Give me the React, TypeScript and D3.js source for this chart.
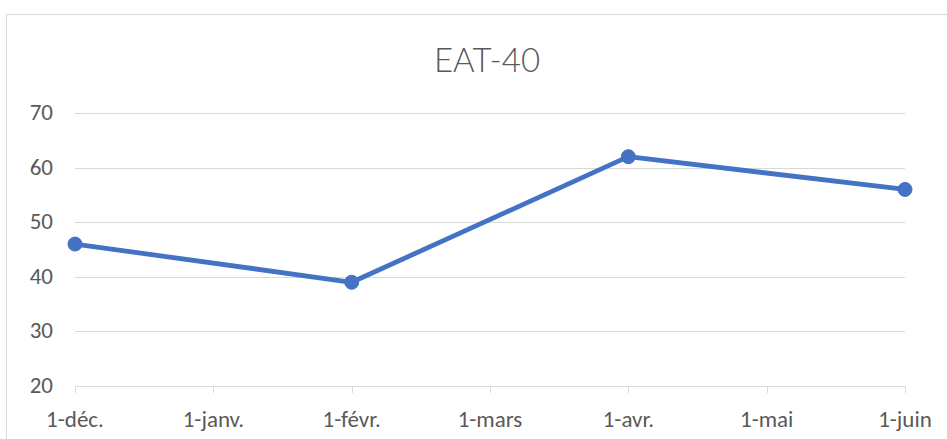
import React from "react";
import * as d3 from "d3";

const months = ["1-déc.", "1-janv.", "1-févr.", "1-mars", "1-avr.", "1-mai", "1-juin"];
const pointMonths = [0, 2, 4, 6];
const values = [46, 39, 62, 56];
const yTicks = [20, 30, 40, 50, 60, 70];
const title = "EAT-40";

const W = 947;
const H = 439;
const FONT = "Carlito, 'Liberation Sans Narrow', 'Open Sans', sans-serif";
const TITLE_FONT = "Lato, Carlito, sans-serif";

export default function App() {
  const x = d3.scaleLinear().domain([0, months.length - 1]).range([75, 905]);
  const y = d3.scaleLinear().domain([20, 70]).range([386, 113]);
  const line = d3
    .line<number>()
    .x((_, i) => x(pointMonths[i]))
    .y((d) => y(d));
  return (
    <svg
      width={W}
      height={H}
      style={{ position: "absolute", left: 0, top: 0, background: "#fff" }}
    >
      <rect x={6.5} y={14.5} width={W + 10} height={H + 10} fill="#fff" stroke="#d9d9d9" strokeWidth={1} />
      <text x={487} y={71.5} textAnchor="middle" fontFamily={TITLE_FONT} fontWeight={300} fontSize={33} fill="#595959">
        {title}
      </text>
      {yTicks.map((t) => (
        <g key={t}>
          <line x1={75} x2={905} y1={Math.round(y(t)) + 0.5} y2={Math.round(y(t)) + 0.5} stroke="#d9d9d9" strokeWidth={1} />
          <text x={53} y={y(t) + 7} textAnchor="end" fontFamily={FONT} fontSize={23} fill="#595959">
            {t}
          </text>
        </g>
      ))}
      {months.map((m, i) => (
        <g key={m}>
          <line x1={Math.round(x(i)) + 0.5} x2={Math.round(x(i)) + 0.5} y1={386} y2={393} stroke="#d9d9d9" strokeWidth={1} />
          <text x={x(i)} y={426.5} textAnchor="middle" fontFamily={FONT} fontSize={23} fill="#595959">
            {m}
          </text>
        </g>
      ))}
      <path d={line(values) || ""} fill="none" stroke="#4472C4" strokeWidth={4.8} strokeLinejoin="round" strokeLinecap="round" />
      {values.map((v, i) => (
        <circle key={i} cx={x(pointMonths[i])} cy={y(v)} r={7} fill="#4472C4" stroke="#4472C4" strokeWidth={1} />
      ))}
    </svg>
  );
}
